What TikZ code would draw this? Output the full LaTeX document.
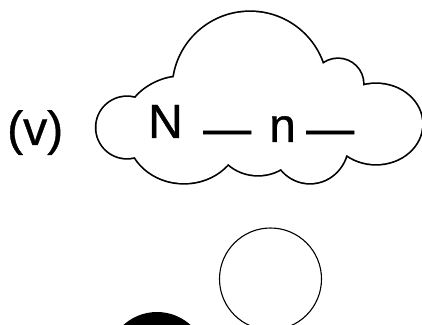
\documentclass[tikz,border=0pt]{standalone}
\usepackage{fontspec}
\setmainfont{Liberation Sans}[FakeBold=0.8]
\usepackage{tikz}

% the puffs of the cloud, drawn thick and then filled over
\newcommand{\puffs}{%
  (250,235) circle[radius=77]
  (338,240) circle[radius=25]
  (376,200) ellipse[x radius=46, y radius=40]
  (310,181) ellipse[x radius=38, y radius=40]
  (258,187) ellipse[x radius=42, y radius=38]
  (184,191) ellipse[x radius=56, y radius=50]
  (127,196.5) circle[radius=30.5]
  (163.2,222.7) circle[x radius=36.7, y radius=20, rotate=26.6]
}

\begin{document}
\begin{tikzpicture}[x=1pt,y=1pt,
  lbl/.style={inner sep=0pt,anchor=base west,font=\fontsize{48}{56}\selectfont}]
\useasboundingbox (0,0) rectangle (422,324);
\clip (0,0) rectangle (422,324);
\draw[line width=3.4pt] \puffs;
\fill[white] \puffs;
\fill[white] (300,180) rectangle (360,225);
\path (7,179) node[lbl] (v) {(v)}
		(148,186) node[lbl] (N) {N}
		(203,179.3) node[lbl] (b1) {—}
		(269,182) node[lbl] (n) {n}
		(306,179.3) node[lbl] (b2) {—}
		;
\draw[line width=1.1pt] (270.5,45) circle[radius=51];
\fill (157,-38) circle[radius=50];
\end{tikzpicture}
\end{document}
